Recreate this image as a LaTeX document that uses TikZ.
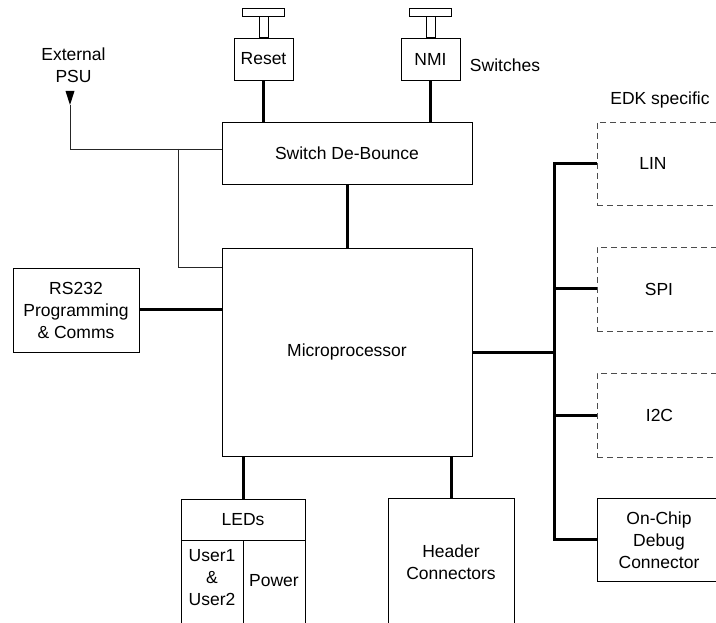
\documentclass[tikz,border=0pt]{standalone}
\usepackage{fontspec}
\setmainfont{Liberation Sans}
\begin{document}
\begin{tikzpicture}[x=1pt,y=-1pt,
  every node/.style={font=\fontsize{17.5}{22}\selectfont, inner sep=0pt},
  box/.style={draw=black, line width=0.9pt, rectangle},
  dbox/.style={draw=black!70, line width=0.9pt, dash pattern=on 6pt off 4pt, rectangle},
  thin/.style={draw=black!85, line width=0.9pt},
  thickline/.style={draw=black, line width=3pt},
  lbl/.style={align=center}]
\clip (0,0) rectangle (716,623);
\fill[white] (0,0) rectangle (716,623);
% switches
\node[box, minimum width=59pt, minimum height=42pt] (reset) at (263.5,59) {Reset};
\node[box, minimum width=59pt, minimum height=42pt] (nmi) at (430.5,59) {NMI};
\draw[box] ([xshift=-4.5pt]reset.north) rectangle ([xshift=4.5pt,yshift=21pt]reset.north);
\draw[box] ([xshift=-21pt,yshift=21pt]reset.north) rectangle ([xshift=21pt,yshift=29pt]reset.north);
\draw[box] ([xshift=-4.5pt]nmi.north) rectangle ([xshift=4.5pt,yshift=21pt]nmi.north);
\draw[box] ([xshift=-21pt,yshift=21pt]nmi.north) rectangle ([xshift=21pt,yshift=29pt]nmi.north);
\node (switches) at (505,65) {Switches};
% main blocks
\node[box, minimum width=250pt, minimum height=62pt] (deb) at (347,153) {Switch De-Bounce};
\node[box, minimum width=250pt, minimum height=208pt] (micro) at (347,352) {Microprocessor};
\node[box, lbl, minimum width=126pt, minimum height=84pt] (rs) at (76,310) {RS232\\Programming\\\& Comms};
% external PSU
\node[lbl] (psu) at (73.5,65) {External\\PSU};
\coordinate (psutip) at (70,105);
\fill[black] (65.5,91) -- (74.5,91) -- (psutip) -- cycle;
\draw[thin] (psutip) |- ([yshift=4pt]deb.west);
\coordinate (jn) at (178,149);
\draw[thin] (jn) |- (micro.west |- rs.north);
% thick connectors
\draw[thickline] (reset.south) -- (reset.south |- deb.north);
\draw[thickline] (nmi.south) -- (nmi.south |- deb.north);
\draw[thickline] (deb.south) -- (micro.north);
\draw[thickline] (rs.east) -- (rs.east -| micro.west);
% EDK specific
\node (edk) at (660,100) {EDK specific};
\node[dbox, minimum width=123pt, minimum height=83pt] (lin) at (658.5,163.5) {};
\node[dbox, minimum width=123pt, minimum height=84pt] (spi) at (658.5,289) {};
\node[dbox, minimum width=123pt, minimum height=84pt] (i2c) at (658.5,415) {};
\node at (653,163.5) {LIN};
\node at (659,289) {SPI};
\node at (659.5,415) {I2C};
\node[box, lbl, minimum width=123pt, minimum height=83pt] (ocd) at (658.5,539.5) {};
\node[lbl] at (659,540) {On-Chip\\Debug\\Connector};
\coordinate (bus) at (554,0);
\draw[thickline] (micro.east) -- (micro.east -| bus);
\draw[thickline] (lin.west) -| (ocd.west -| bus) -- (ocd.west);
\draw[thickline] (spi.west) -- (spi.west -| bus);
\draw[thickline] (i2c.west) -- (i2c.west -| bus);
% bottom blocks
\node[box, minimum width=124pt, minimum height=41pt] (leds) at (243,519.5) {LEDs};
\node[box, minimum width=62pt, minimum height=90pt] (user) at (212,585) {};
\node[box, minimum width=62pt, minimum height=90pt] (power) at (274,585) {};
\node[lbl] at (212,578) {User1\\\&\\User2};
\node at (274,581) {Power};
\node[box, minimum width=126pt, minimum height=132pt] (hdr) at (451,564) {};
\node[lbl] at (451,562) {Header\\Connectors};
\draw[thickline] (micro.south -| leds.north) -- (leds.north);
\draw[thickline] (micro.south -| hdr.north) -- (hdr.north);
\end{tikzpicture}
\end{document}
